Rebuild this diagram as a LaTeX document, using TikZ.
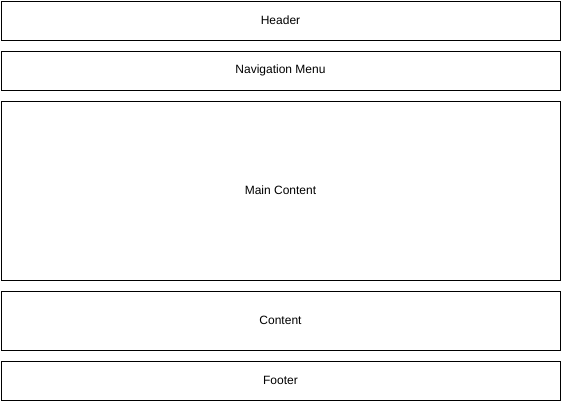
\documentclass[tikz,border=0pt]{standalone}
\usepackage{fontspec}
\setmainfont{Liberation Sans}
\usepackage{tikz}
\usetikzlibrary{positioning}

\begin{document}
\begin{tikzpicture}[
		x=0.75pt, y=-0.75pt,
		block/.style={
			draw,
			line width=0.75pt,
			minimum width=419.25pt,
			inner sep=0pt,
			font=\fontsize{9}{11}\selectfont
		}
		]
		
		\useasboundingbox (0,0) rectangle (561,401);
		
		\node[block, minimum height=29.25pt] at (280.5, 20.5)
		(header) {Header};
		
		\node[block, minimum height=29.25pt] at (280.5, 70.5)
		(nav) {Navigation Menu};
		
		\node[block, minimum height=134.25pt] at (280.5, 190.5)
		(main) {Main Content};
		
		\node[block, minimum height=44.25pt] at (280.5, 320.5)
		(content) {Content};
		
		\node[block, minimum height=29.25pt] at (280.5, 380.5)
		(footer) {Footer};
		
		\end{tikzpicture}
\end{document}
